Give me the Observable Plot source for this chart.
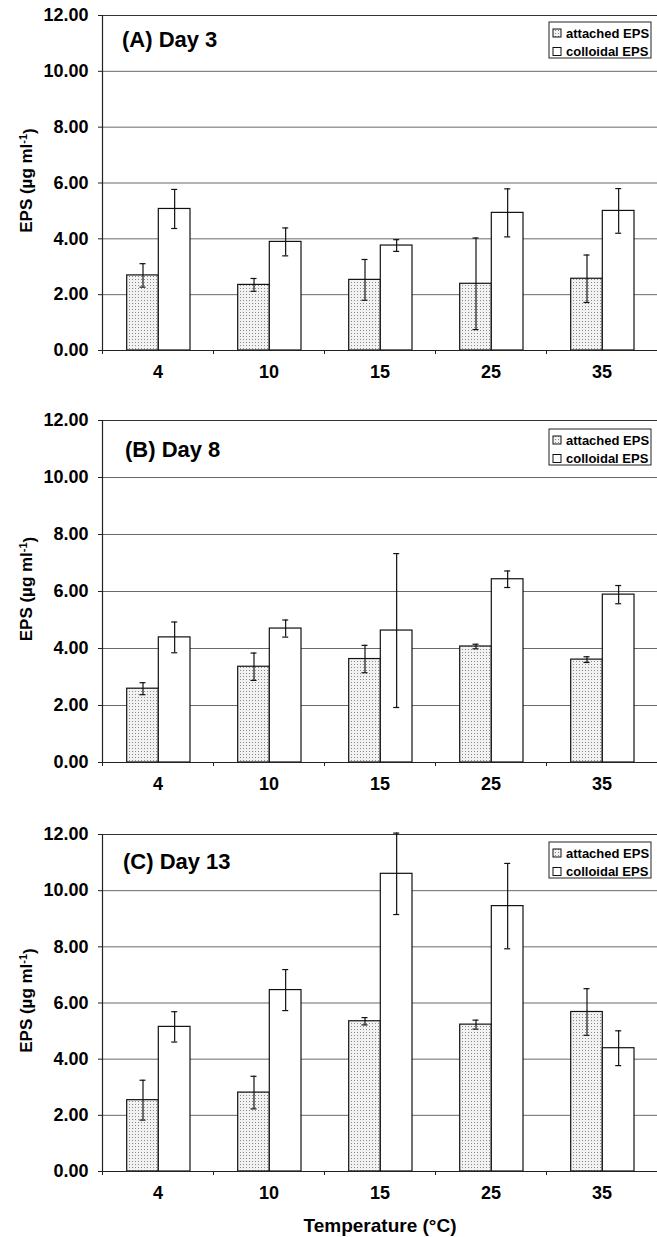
<!DOCTYPE html>
<html><head><meta charset="utf-8">
<script src="https://cdn.jsdelivr.net/npm/d3@7"></script>
<script src="https://cdn.jsdelivr.net/npm/@observablehq/plot@0.6"></script>
<style>
body{margin:0;background:#fff;}
#chart{width:657px;height:1237px;overflow:hidden;}
svg{display:block;}
</style></head><body><div id="chart"></div>
<script>
// ---- data ----
const temperatures = ["4", "10", "15", "25", "35"];
const seriesNames = ["attached EPS", "colloidal EPS"];
const yTicks = [0, 2, 4, 6, 8, 10, 12];
const gridValues = [2, 4, 6, 8, 10];
const panelTitles = ["(A) Day 3", "(B) Day 8", "(C) Day 13"];

const day3Attached      = [2.69, 2.35, 2.53, 2.39, 2.57];
const day3AttachedErr   = [0.42, 0.23, 0.73, 1.64, 0.85];
const day3Colloidal     = [5.07, 3.89, 3.76, 4.93, 5.00];
const day3ColloidalErr  = [0.70, 0.50, 0.21, 0.86, 0.80];

const day8Attached      = [2.59, 3.36, 3.63, 4.07, 3.61];
const day8AttachedErr   = [0.21, 0.48, 0.48, 0.08, 0.10];
const day8Colloidal     = [4.39, 4.70, 4.63, 6.43, 5.89];
const day8ColloidalErr  = [0.54, 0.30, 2.70, 0.29, 0.32];

const day13Attached     = [2.54, 2.81, 5.35, 5.23, 5.68];
const day13AttachedErr  = [0.71, 0.58, 0.13, 0.16, 0.83];
const day13Colloidal    = [5.15, 6.46, 10.60, 9.45, 4.39];
const day13ColloidalErr = [0.54, 0.73, 1.45, 1.52, 0.62];

const xTitle = "Temperature (°C)";

// ---- layout ----
const FONT = "'Liberation Sans', Arial, Helvetica, sans-serif";
const W = 657;
const panels = [
  {title: panelTitles[0], att: day3Attached, attE: day3AttachedErr, col: day3Colloidal, colE: day3ColloidalErr,
   h: 400, mt: 15, mb: 50, titleDy: 32, titleX: 122, legendDy: 7},
  {title: panelTitles[1], att: day8Attached, attE: day8AttachedErr, col: day8Colloidal, colE: day8ColloidalErr,
   h: 410, mt: 20, mb: 48, titleDy: 36.5, titleX: 125, legendDy: 9},
  {title: panelTitles[2], att: day13Attached, attE: day13AttachedErr, col: day13Colloidal, colE: day13ColloidalErr,
   h: 427, mt: 24, mb: 66, titleDy: 34.5, titleX: 123, legendDy: 8, xTitle: true}
];

const chart = document.getElementById("chart");

panels.forEach((p, k) => {
  const att = temperatures.map((t, i) => ({t, v: p.att[i], e: p.attE[i]}));
  const col = temperatures.map((t, i) => ({t, v: p.col[i], e: p.colE[i]}));
  const patId = "dots" + k;
  const ink = "#111";

  const svg = Plot.plot({
    width: W,
    height: p.h,
    marginLeft: 102,
    marginRight: 0,
    marginTop: p.mt,
    marginBottom: p.mb,
    style: {fontFamily: FONT, fontWeight: "bold", color: "#000", background: "#fff"},
    x: {domain: temperatures, padding: 0, label: null},
    y: {domain: [0, 12], label: null},
    marks: [
      Plot.ruleY(gridValues, {stroke: "#6a6a6a", strokeWidth: 1}),
      Plot.ruleY([12], {stroke: "#333", strokeWidth: 1}),
      Plot.barY(att, {x: "t", y: "v", fill: `url(#${patId})`, stroke: ink, strokeWidth: 1.2,
        insetLeft: 24.7, insetRight: 54.7}),
      Plot.barY(col, {x: "t", y: "v", fill: "#fff", stroke: ink, strokeWidth: 1.2,
        insetLeft: 56.3, insetRight: 23}),
      Plot.ruleX(att, {x: "t", y1: d => d.v - d.e, y2: d => d.v + d.e, dx: -15, stroke: ink, strokeWidth: 1.2}),
      Plot.ruleX(col, {x: "t", y1: d => d.v - d.e, y2: d => d.v + d.e, dx: 16.65, stroke: ink, strokeWidth: 1.2}),
      Plot.tickY(att, {x: "t", y: d => d.v - d.e, insetLeft: 37.5, insetRight: 67.5, stroke: ink, strokeWidth: 1.2}),
      Plot.tickY(att, {x: "t", y: d => d.v + d.e, insetLeft: 37.5, insetRight: 67.5, stroke: ink, strokeWidth: 1.2}),
      Plot.tickY(col, {x: "t", y: d => d.v - d.e, insetLeft: 69.2, insetRight: 35.8, stroke: ink, strokeWidth: 1.2}),
      Plot.tickY(col, {x: "t", y: d => d.v + d.e, insetLeft: 69.2, insetRight: 35.8, stroke: ink, strokeWidth: 1.2}),
      // axis lines
      Plot.ruleY([0], {stroke: "#222", strokeWidth: 1.2}),
      Plot.ruleX([temperatures[0]], {x: d => d, dx: -55.5, stroke: "#222", strokeWidth: 1.2}),
      // category boundary ticks
      Plot.ruleX(temperatures, {x: d => d, y1: 0, y2: 0, insetTop: 4, dx: -55.5, stroke: "#222", strokeWidth: 1}),
      Plot.axisY({ticks: yTicks, tickFormat: d => d.toFixed(2), tickSize: 4, tickPadding: 10,
        fontSize: 18, fontWeight: "bold", label: null, stroke: "#222"}),
      Plot.axisX({tickSize: 0, tickPadding: 15, fontSize: 18, fontWeight: "bold", label: null})
    ]
  });

  const s = d3.select(svg);
  // dotted pattern for attached EPS
  const defs = s.insert("defs", ":first-child");
  const pat = defs.append("pattern").attr("id", patId).attr("patternUnits", "userSpaceOnUse")
    .attr("width", 3).attr("height", 3);
  pat.append("rect").attr("width", 3).attr("height", 3).attr("fill", "#f2f2f2");
  pat.append("rect").attr("width", 1).attr("height", 1).attr("fill", "#8a8a8a");

  // panel title
  s.append("text").attr("x", p.titleX).attr("y", p.mt + p.titleDy).attr("text-anchor", "start")
    .attr("font-family", FONT).attr("font-weight", "bold").attr("font-size", 22)
    .text(p.title);

  // legend
  const lx = 549, ly = p.mt + p.legendDy;
  const lg = s.append("g").attr("font-family", FONT).attr("font-weight", "bold").attr("font-size", 13)
    .attr("text-anchor", "start");
  lg.append("rect").attr("x", lx).attr("y", ly).attr("width", 102).attr("height", 36)
    .attr("fill", "#fff").attr("stroke", "#222").attr("stroke-width", 1);
  seriesNames.forEach((name, j) => {
    const cy = ly + 11 + j * 18.5;
    lg.append("rect").attr("x", lx + 4).attr("y", cy - 4).attr("width", 8).attr("height", 8)
      .attr("fill", j === 0 ? `url(#${patId})` : "#fff").attr("stroke", "#111").attr("stroke-width", 1);
    lg.append("text").attr("x", lx + 17).attr("y", cy + 4.5).text(name);
  });

  // y-axis label
  const mid = p.mt + (p.h - p.mt - p.mb) / 2;
  const yl = s.append("text").attr("transform", `translate(32,${mid - 2}) rotate(-90)`)
    .attr("text-anchor", "middle").attr("font-family", FONT).attr("font-weight", "bold").attr("font-size", 17);
  yl.append("tspan").text("EPS (µg ml");
  yl.append("tspan").attr("dy", "-0.45em").attr("font-size", 11).text("-1");
  yl.append("tspan").attr("dy", "0.45em").text(")");

  if (p.xTitle) {
    s.append("text").attr("x", 380).attr("y", p.h - 5).attr("text-anchor", "middle")
      .attr("font-family", FONT).attr("font-weight", "bold").attr("font-size", 19).text(xTitle);
  }

  chart.appendChild(svg);
});
</script>
</body></html>
